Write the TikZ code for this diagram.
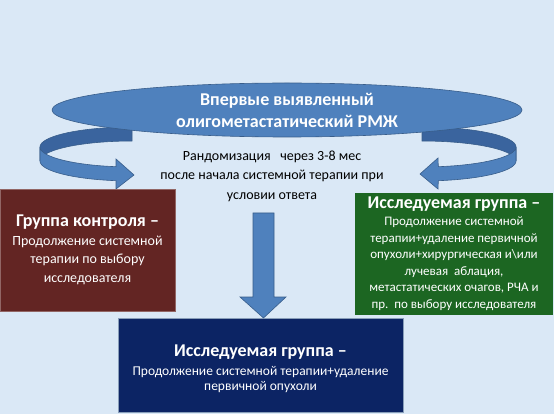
\documentclass[tikz,border=0pt]{standalone}
\usepackage{fontspec}
\setmainfont{Carlito}
\usetikzlibrary{shapes.geometric}

\definecolor{paleblue}{RGB}{218,232,246}
\definecolor{officeblue}{RGB}{79,129,189}
\definecolor{edgeblue}{RGB}{56,93,138}
\definecolor{backblue}{RGB}{58,100,158}
\definecolor{ctrlred}{RGB}{99,37,35}
\definecolor{studygreen}{RGB}{28,102,34}
\definecolor{studynavy}{RGB}{12,36,100}

\begin{document}
\begin{tikzpicture}[x=1pt, y=-1pt,
    band/.style={fill=officeblue, draw=edgeblue, line width=0.6pt},
    backband/.style={fill=backblue, draw=edgeblue, line width=0.6pt},
    groupbox/.style={text=white, align=center, inner sep=0pt, font=\fontsize{14}{18.5}\selectfont}]

    \fill[paleblue] (0,0) rectangle (554,414);
    \useasboundingbox (0,0) rectangle (554,414);

    % left curved arrow
    \path[backband] plot[domain=270:180] ({132+92*cos(\x)},{147+20*sin(\x)})
        -- plot[domain=180:270] ({132+92*cos(\x)},{161+20*sin(\x)}) -- cycle;
    \path[band] plot[domain=180:100] ({132+92*cos(\x)},{147+20*sin(\x)})
        -- (116,159) -- (134,175) -- (116,189)
        -- plot[domain=100:180] ({132+92*cos(\x)},{161+20*sin(\x)}) -- cycle;

    % right curved arrow
    \path[backband] plot[domain=270:360] ({422+94*cos(\x)},{147+20*sin(\x)})
        -- plot[domain=360:270] ({422+94*cos(\x)},{161+20*sin(\x)}) -- cycle;
    \path[band] plot[domain=0:80] ({422+94*cos(\x)},{147+20*sin(\x)})
        -- (438,158) -- (420,174) -- (438,189)
        -- plot[domain=80:0] ({422+94*cos(\x)},{161+20*sin(\x)}) -- cycle;

    \node[ellipse, fill=officeblue, draw=edgeblue, line width=0.6pt, minimum width=470,
        minimum height=54, inner sep=0pt, text=white, align=center,
        font=\fontsize{18}{22}\selectfont\bfseries] (diag) at (287,110)
        {Впервые выявленный\\олигометастатический РМЖ};

    \node[align=center, font=\fontsize{14}{19.5}\selectfont] (rand) at (272,176)
        {Рандомизация\ \ \ через 3-8 мес\\после начала системной терапии при\\условии ответа};

    \node[groupbox, fill=ctrlred, draw=ctrlred!70!white, minimum width=175, minimum height=122]
        (ctrl) at (87.5,250)
        {{\fontsize{18}{20}\selectfont\bfseries Группа контроля –}\\
         Продолжение системной\\терапии по выбору\\исследователя};

    \node[groupbox, fill=studygreen, minimum width=198, minimum height=122,
        font=\fontsize{13}{16.6}\selectfont] (full) at (454,254)
        {{\fontsize{18}{20}\selectfont\bfseries Исследуемая группа –}\\
         Продолжение системной\\терапии+удаление первичной\\
         опухоли+хирургическая и\textbackslash{}или\\лучевая\ \ аблация,\\
         метастатических очагов, РЧА и\\пр.\ \ по выбору исследователя};

    \node[groupbox, fill=studynavy, draw=edgeblue!60!white, minimum width=285, minimum height=94,
        font=\fontsize{13.5}{15.5}\selectfont] (surg) at (260.5,365)
        {\\[4pt]{\fontsize{18}{20}\selectfont\bfseries Исследуемая группа –}\\[3pt]
         Продолжение системной терапии+удаление\\первичной опухоли};

    % down arrow
    \coordinate (drop) at (263.5,213);
    \path[band] (drop) ++(-10.5,0) -- ++(21,0) -- ++(0,84) -- ++(12,0)
        -- (263.5,318) -- (240,297) -- ++(13,0) -- cycle;
\end{tikzpicture}
\end{document}
